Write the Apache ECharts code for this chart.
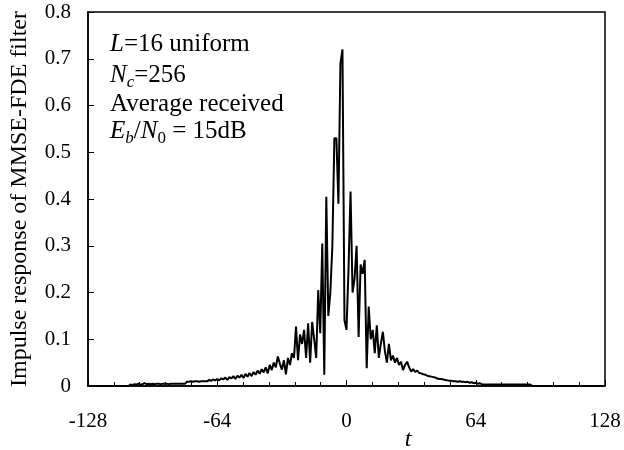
<!DOCTYPE html>
<html>
<head>
<meta charset="utf-8">
<script src="https://cdn.jsdelivr.net/npm/echarts@6/dist/echarts.min.js"></script>
<style>
html,body{margin:0;padding:0;background:#fff;}
#chart{width:624px;height:450px;}
</style>
</head>
<body>
<div id="chart"></div>
<script>
// sample index t runs from -128 to 127
var tStart = -128;
var response = [
  0,0,0,0,0,0,0,0,0,0,0,0,0,0,0,0,
  0,0,0,0,0,0.003,0.002,0.004,0.003,0.005,0.003,0.004,0.006,0.004,0.005,0.004,
  0.005,0.004,0.005,0.005,0.004,0.005,0.005,0.005,0.004,0.005,0.005,0.005,0.005,0.005,0.005,0.005,
  0.005,0.009,0.009,0.01,0.009,0.01,0.01,0.009,0.01,0.01,0.01,0.01,0.013,0.011,0.014,0.012,
  0.015,0.012,0.016,0.014,0.018,0.013,0.019,0.016,0.021,0.015,0.022,0.018,0.024,0.017,0.026,0.02,
  0.028,0.021,0.03,0.024,0.033,0.026,0.036,0.029,0.04,0.027,0.045,0.034,0.05,0.04,0.063,0.048,
  0.035,0.055,0.025,0.06,0.045,0.07,0.06,0.127,0.055,0.11,0.09,0.12,0.06,0.134,0.05,0.137,
  0.1,0.06,0.205,0.113,0.305,0.024,0.405,0.15,0.2,0.3,0.53,0.53,0.39,0.69,0.72,0.14,
  0.12,0.25,0.416,0.2,0.23,0.3,0.105,0.26,0.24,0.27,0.038,0.17,0.1,0.12,0.07,0.13,
  0.06,0.09,0.116,0.075,0.05,0.09,0.055,0.065,0.05,0.06,0.045,0.052,0.034,0.045,0.052,0.04,
  0.031,0.036,0.03,0.033,0.028,0.027,0.025,0.024,0.022,0.021,0.02,0.019,0.018,0.016,0.015,0.015,
  0.014,0.013,0.012,0.011,0.011,0.01,0.01,0.009,0.01,0.009,0.009,0.008,0.009,0.007,0.008,0.006,
  0.007,0.005,0.006,0.004,0.003,0.003,0.003,0.003,0.003,0.003,0.003,0.003,0.003,0.003,0.003,0.003,
  0.003,0.003,0.003,0.003,0.003,0.003,0.003,0.003,0.003,0.003,0.003,0.003,0,0,0,0,
  0,0,0,0,0,0,0,0,0,0,0,0,0,0,0,0,
  0,0,0,0,0,0,0,0,0,0,0,0,0,0,0,0
];
var xTicks = [-128, -64, 0, 64, 128];
var yTicks = [0, 0.1, 0.2, 0.3, 0.4, 0.5, 0.6, 0.7, 0.8];

var points = response.map(function (v, i) { return [tStart + i, v]; });

var FONT = 'Liberation Serif';
var chart = echarts.init(document.getElementById('chart'), null, {renderer: 'canvas'});
chart.setOption({
  animation: false,
  backgroundColor: '#fff',
  grid: {left: 85, right: 19, top: 12, bottom: 64, show: true, borderColor: '#000', borderWidth: 1.5, backgroundColor: 'transparent'},
  xAxis: {
    type: 'value', min: xTicks[0], max: xTicks[xTicks.length - 1], interval: 64,
    axisLine: {show: true, onZero: false, lineStyle: {color: '#000', width: 1.5}},
    axisTick: {show: true, inside: true, length: 6, lineStyle: {color: '#000', width: 1}},
    minorTick: {show: true, splitNumber: 5, length: 4, lineStyle: {color: '#000', width: 1}},
    axisLabel: {fontFamily: FONT, fontSize: 21, color: '#000', margin: 25},
    splitLine: {show: false}
  },
  yAxis: {
    type: 'value', min: yTicks[0], max: yTicks[yTicks.length - 1], interval: 0.1,
    name: 'Impulse response of MMSE-FDE filter', nameLocation: 'middle', nameGap: 56, nameRotate: 90,
    nameTextStyle: {fontFamily: FONT, fontSize: 24, color: '#000'},
    axisLine: {show: true, onZero: false, lineStyle: {color: '#000', width: 1.5}},
    axisTick: {show: true, inside: true, length: 6, lineStyle: {color: '#000', width: 1}},
    axisLabel: {fontFamily: FONT, fontSize: 21, color: '#000', margin: 17},
    splitLine: {show: false}
  },
  series: [{
    type: 'line', data: points, showSymbol: false, symbol: 'none',
    lineStyle: {color: '#000', width: 2}, z: 3
  }],
  graphic: [
    {type: 'text', x: 408, y: 440, style: {
      text: 't', fontFamily: FONT, fontSize: 24, fontStyle: 'italic', fill: '#000', verticalAlign: 'middle', align: 'center'
    }},
    {type: 'text', x: 110, y: 44, style: {
      text: '{i|L}=16 uniform', fontFamily: FONT, fontSize: 25, fill: '#000', verticalAlign: 'middle', align: 'left',
      rich: {i: {fontFamily: FONT, fontSize: 25, fontStyle: 'italic'}}
    }},
    {type: 'text', x: 110, y: 75, style: {
      text: '{i|N}{s|c}=256', fontFamily: FONT, fontSize: 25, fill: '#000', verticalAlign: 'middle', align: 'left',
      rich: {i: {fontFamily: FONT, fontSize: 25, fontStyle: 'italic'},
             s: {fontFamily: FONT, fontSize: 17, fontStyle: 'italic', padding: [16, 0, 0, 0]}}
    }},
    {type: 'text', x: 110, y: 104, style: {
      text: 'Average received', fontFamily: FONT, fontSize: 25, fill: '#000', verticalAlign: 'middle', align: 'left'
    }},
    {type: 'text', x: 110, y: 131, style: {
      text: '{i|E}{s|b}/{i|N}{n|0} = 15dB', fontFamily: FONT, fontSize: 25, fill: '#000', verticalAlign: 'middle', align: 'left',
      rich: {i: {fontFamily: FONT, fontSize: 25, fontStyle: 'italic'},
             s: {fontFamily: FONT, fontSize: 17, fontStyle: 'italic', padding: [16, 0, 0, 0]},
             n: {fontFamily: FONT, fontSize: 17, padding: [16, 0, 0, 0]}}
    }}
  ]
});
</script>
</body>
</html>
